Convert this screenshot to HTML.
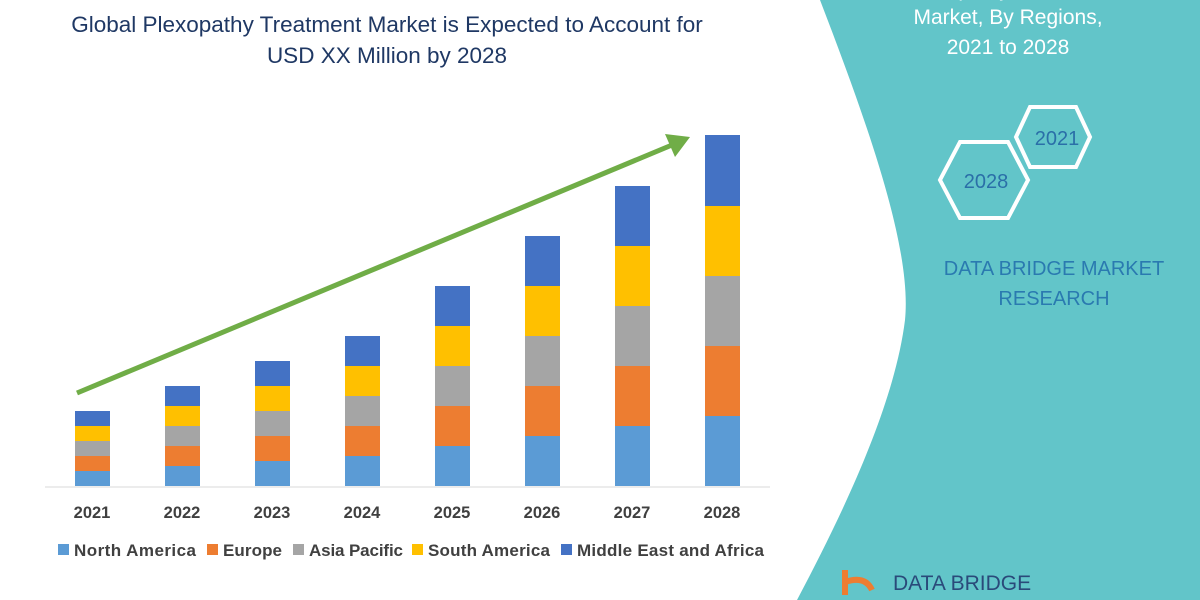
<!DOCTYPE html>
<html><head><meta charset="utf-8"><style>
body{margin:0;width:1200px;height:600px;overflow:hidden;background:#fff;font-family:"Liberation Sans",sans-serif}
</style></head><body>
<svg width="1200" height="600" xmlns="http://www.w3.org/2000/svg" style="position:absolute;left:0;top:0">
<path d="M820,0 L1200,0 L1200,600 L797,600 C850,500 895,400 905,320 C912,250 870,130 820,0 Z" fill="#62c5c9"/>
<text x="387" y="32" font-size="22.5" fill="#1f3864" text-anchor="middle">Global Plexopathy Treatment Market is Expected to Account for</text>
<text x="387" y="63" font-size="22.5" fill="#1f3864" text-anchor="middle">USD XX Million by 2028</text>
<text x="1008" y="-4" font-size="21" fill="#fff" text-anchor="middle">Plexopathy Treatment</text>
<text x="1008" y="24" font-size="21" fill="#fff" text-anchor="middle">Market, By Regions,</text>
<text x="1008" y="54" font-size="21" fill="#fff" text-anchor="middle">2021 to 2028</text>
<polygon points="1030,107 1076,107 1090,137 1076,167 1030,167 1016,137" fill="none" stroke="#fff" stroke-width="4"/>
<text x="1057" y="145" font-size="20" fill="#2a6fa8" text-anchor="middle">2021</text>
<polygon points="960,142 1008,142 1028,180 1008,218 960,218 940,180" fill="none" stroke="#fff" stroke-width="4"/>
<text x="986" y="188" font-size="20" fill="#2a6fa8" text-anchor="middle">2028</text>
<text x="1054" y="275" font-size="20" fill="#2a7ab0" text-anchor="middle">DATA BRIDGE MARKET</text>
<text x="1054" y="305" font-size="20" fill="#2a7ab0" text-anchor="middle">RESEARCH</text>
<path d="M845,570 L845,595 M845,582 Q865,575 872,590" stroke="#ed7d31" stroke-width="6" fill="none"/>
<text x="893" y="590" font-size="21" fill="#2a4a7a">DATA BRIDGE</text>
<line x1="45" y1="487" x2="770" y2="487" stroke="#d9d9d9" stroke-width="1"/>
<line x1="77" y1="393" x2="672" y2="145" stroke="#70ad47" stroke-width="5"/>
<polygon points="690,137 665,134 675,157" fill="#70ad47"/>
<g font-size="16.5" font-weight="bold" fill="#404040" text-anchor="middle">
<text x="92" y="518">2021</text><text x="182" y="518">2022</text><text x="272" y="518">2023</text><text x="362" y="518">2024</text>
<text x="452" y="518">2025</text><text x="542" y="518">2026</text><text x="632" y="518">2027</text><text x="722" y="518">2028</text>
</g>
<g font-size="17" font-weight="bold" fill="#404040">
<rect x="58" y="544" width="11" height="11" fill="#5b9bd5"/><text x="74" y="556" textLength="122">North America</text>
<rect x="207" y="544" width="11" height="11" fill="#ed7d31"/><text x="223" y="556" textLength="59">Europe</text>
<rect x="293" y="544" width="11" height="11" fill="#a5a5a5"/><text x="309" y="556" textLength="94">Asia Pacific</text>
<rect x="412" y="544" width="11" height="11" fill="#ffc000"/><text x="428" y="556" textLength="122">South America</text>
<rect x="561" y="544" width="11" height="11" fill="#4472c4"/><text x="577" y="556" textLength="187">Middle East and Africa</text>
</g>
<g>
<rect x="75" y="471" width="35" height="15" fill="#5b9bd5"/><rect x="75" y="456" width="35" height="15" fill="#ed7d31"/><rect x="75" y="441" width="35" height="15" fill="#a5a5a5"/><rect x="75" y="426" width="35" height="15" fill="#ffc000"/><rect x="75" y="411" width="35" height="15" fill="#4472c4"/>
<rect x="165" y="466" width="35" height="20" fill="#5b9bd5"/><rect x="165" y="446" width="35" height="20" fill="#ed7d31"/><rect x="165" y="426" width="35" height="20" fill="#a5a5a5"/><rect x="165" y="406" width="35" height="20" fill="#ffc000"/><rect x="165" y="386" width="35" height="20" fill="#4472c4"/>
<rect x="255" y="461" width="35" height="25" fill="#5b9bd5"/><rect x="255" y="436" width="35" height="25" fill="#ed7d31"/><rect x="255" y="411" width="35" height="25" fill="#a5a5a5"/><rect x="255" y="386" width="35" height="25" fill="#ffc000"/><rect x="255" y="361" width="35" height="25" fill="#4472c4"/>
<rect x="345" y="456" width="35" height="30" fill="#5b9bd5"/><rect x="345" y="426" width="35" height="30" fill="#ed7d31"/><rect x="345" y="396" width="35" height="30" fill="#a5a5a5"/><rect x="345" y="366" width="35" height="30" fill="#ffc000"/><rect x="345" y="336" width="35" height="30" fill="#4472c4"/>
<rect x="435" y="446" width="35" height="40" fill="#5b9bd5"/><rect x="435" y="406" width="35" height="40" fill="#ed7d31"/><rect x="435" y="366" width="35" height="40" fill="#a5a5a5"/><rect x="435" y="326" width="35" height="40" fill="#ffc000"/><rect x="435" y="286" width="35" height="40" fill="#4472c4"/>
<rect x="525" y="436" width="35" height="50" fill="#5b9bd5"/><rect x="525" y="386" width="35" height="50" fill="#ed7d31"/><rect x="525" y="336" width="35" height="50" fill="#a5a5a5"/><rect x="525" y="286" width="35" height="50" fill="#ffc000"/><rect x="525" y="236" width="35" height="50" fill="#4472c4"/>
<rect x="615" y="426" width="35" height="60" fill="#5b9bd5"/><rect x="615" y="366" width="35" height="60" fill="#ed7d31"/><rect x="615" y="306" width="35" height="60" fill="#a5a5a5"/><rect x="615" y="246" width="35" height="60" fill="#ffc000"/><rect x="615" y="186" width="35" height="60" fill="#4472c4"/>
<rect x="705" y="416" width="35" height="70" fill="#5b9bd5"/><rect x="705" y="346" width="35" height="70" fill="#ed7d31"/><rect x="705" y="276" width="35" height="70" fill="#a5a5a5"/><rect x="705" y="206" width="35" height="70" fill="#ffc000"/><rect x="705" y="135" width="35" height="71" fill="#4472c4"/>
</g>
</svg>
</body></html>
